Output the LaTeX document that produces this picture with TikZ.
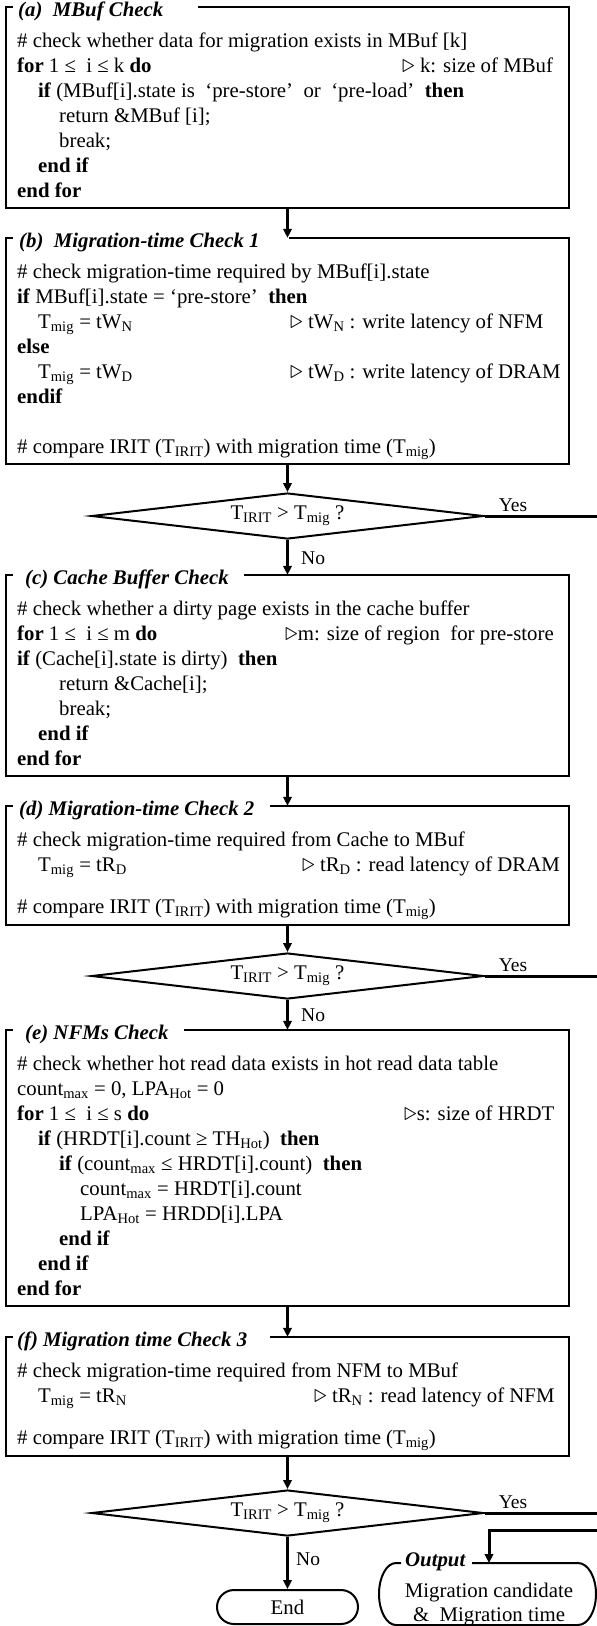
\documentclass[tikz,border=0pt]{standalone}
\usepackage{fontspec}
\usepackage{graphicx}
\setmainfont{Liberation Serif}
\usetikzlibrary{arrows.meta,shapes.geometric,shapes.misc}

\tikzset{
  frame/.style={line width=2pt, line join=miter},
  conn/.style={line width=3pt, -{Triangle[length=9pt,width=8.5pt]}},
  plainconn/.style={line width=3pt},
  txt/.style={inner sep=0pt, anchor=base west, font=\fontsize{20.8}{25}\selectfont},
  ttl/.style={txt, font=\fontsize{20.8}{25}\selectfont\bfseries\itshape},
  lbl/.style={inner sep=0pt, font=\fontsize{19.5}{22}\selectfont},
  boxarea/.style={draw=none, inner sep=0pt, minimum width=563pt},
  decision/.style={diamond, draw, line width=2pt, inner sep=0pt, aspect=8.5,
    minimum width=392pt, minimum height=46pt, font=\fontsize{20.8}{25}\selectfont},
  terminal/.style={rounded rectangle, draw, line width=2pt, inner sep=0pt,
    minimum width=141pt, minimum height=34pt, font=\fontsize{20.8}{25}\selectfont},
}

% open frame of a step box: the top edge leaves room for the heading
\newcommand{\pframe}[2]{%
  \draw[frame] ([xshift=7pt]#1.north west) -- (#1.north west) -- (#1.south west)
    -- (#1.south east) -- (#1.north east) -- ([xshift=#2]#1.north west);}
\newcommand{\sub}[1]{\textsubscript{#1}}
\newcommand{\cmt}{\scalebox{1.25}{$\triangleright$}}

\begin{document}
\begin{tikzpicture}[x=1pt,y=-1pt]
\fill[white] (0,0) rectangle (597,1626);
\useasboundingbox (0,0) rectangle (597,1626);

% ---------- step boxes ----------
\node[boxarea, minimum height=201pt]   (A) at (287.5,107.5) {};
\node[boxarea, minimum height=226pt]   (B) at (287.5,351) {};
\node[boxarea, minimum height=201pt]   (C) at (287.5,675.5) {};
\node[boxarea, minimum height=118.5pt] (D) at (287.5,865.25) {};
\node[boxarea, minimum height=276pt]   (E) at (287.5,1168) {};
\node[boxarea, minimum height=118.5pt] (F) at (287.5,1396.25) {};

\pframe{A}{192pt}
\pframe{B}{283pt}
\pframe{C}{238pt}
\pframe{D}{264pt}
\pframe{E}{178pt}
\pframe{F}{264pt}

% ---------- (a) ----------
\node[ttl] (At) at (18,16) {(a)\ \ MBuf Check};
\node[txt] (a1) at (17,47) {\# check whether data for migration exists in MBuf [k]};
\node[txt] (a2) at (17,72) {\textbf{for} 1 ≤~ i ≤ k \textbf{do}};
\node[txt] (a2c) at (402,72) {\cmt\ k: size of MBuf};
\node[txt] (a3) at (38,97) {\textbf{if} (MBuf[i].state is~ ‘pre-store’~ or~ ‘pre-load’~ \textbf{then}};
\node[txt] (a4) at (59,122) {return \&MBuf [i];};
\node[txt] (a5) at (59,147) {break;};
\node[txt] (a6) at (38,172) {\textbf{end if}};
\node[txt] (a7) at (17,197) {\textbf{end for}};

% ---------- (b) ----------
\node[ttl] (Bt) at (19,247) {(b)\ \ Migration-time Check 1};
\node[txt] (b1) at (17,278) {\# check migration-time required by MBuf[i].state};
\node[txt] (b2) at (17,303) {\textbf{if} MBuf[i].state = ‘pre-store’~ \textbf{then}};
\node[txt] (b3) at (38,328) {T\sub{mig} = tW\sub{N}};
\node[txt] (b3c) at (290,328) {\cmt\ tW\sub{N} : write latency of NFM};
\node[txt] (b4) at (17,353) {\textbf{else}};
\node[txt] (b5) at (38,378) {T\sub{mig} = tW\sub{D}};
\node[txt] (b5c) at (290,378) {\cmt\ tW\sub{D} : write latency of DRAM};
\node[txt] (b6) at (17,403) {\textbf{endif}};
\node[txt] (b7) at (17,453) {\# compare IRIT (T\sub{IRIT}) with migration time (T\sub{mig})};

% ---------- (c) ----------
\node[ttl] (Ct) at (25,584) {(c) Cache Buffer Check};
\node[txt] (c1) at (17,615) {\# check whether a dirty page exists in the cache buffer};
\node[txt] (c2) at (17,640) {\textbf{for} 1 ≤~ i ≤ m \textbf{do}};
\node[txt] (c2c) at (285,640) {\cmt m: size of region~ for pre-store};
\node[txt] (c3) at (17,665) {\textbf{if} (Cache[i].state is dirty)~ \textbf{then}};
\node[txt] (c4) at (59,690) {return \&Cache[i];};
\node[txt] (c5) at (59,715) {break;};
\node[txt] (c6) at (38,740) {\textbf{end if}};
\node[txt] (c7) at (17,765) {\textbf{end for}};

% ---------- (d) ----------
\node[ttl] (Dt) at (19,815) {(d) Migration-time Check 2};
\node[txt] (d1) at (17,846) {\# check migration-time required from Cache to MBuf};
\node[txt] (d2) at (38,871) {T\sub{mig} = tR\sub{D}};
\node[txt] (d2c) at (302,871) {\cmt\ tR\sub{D} : read latency of DRAM};
\node[txt] (d3) at (17,913.5) {\# compare IRIT (T\sub{IRIT}) with migration time (T\sub{mig})};

% ---------- (e) ----------
\node[ttl] (Et) at (25,1039) {(e) NFMs Check};
\node[txt] (e1) at (17,1070) {\# check whether hot read data exists in hot read data table};
\node[txt] (e2) at (17,1095) {count\sub{max} = 0, LPA\sub{Hot} = 0};
\node[txt] (e3) at (17,1120) {\textbf{for} 1 ≤~ i ≤ s \textbf{do}};
\node[txt] (e3c) at (404,1120) {\cmt s: size of HRDT};
\node[txt] (e4) at (38,1145) {\textbf{if} (HRDT[i].count ≥ TH\sub{Hot})~ \textbf{then}};
\node[txt] (e5) at (59,1170) {\textbf{if} (count\sub{max} ≤ HRDT[i].count)~ \textbf{then}};
\node[txt] (e6) at (80,1195) {count\sub{max} = HRDT[i].count};
\node[txt] (e7) at (80,1220) {LPA\sub{Hot} = HRDD[i].LPA};
\node[txt] (e8) at (59,1245) {\textbf{end if}};
\node[txt] (e9) at (38,1270) {\textbf{end if}};
\node[txt] (e10) at (17,1295) {\textbf{end for}};

% ---------- (f) ----------
\node[ttl] (Ft) at (17,1346) {(f) Migration time Check 3};
\node[txt] (f1) at (17,1377) {\# check migration-time required from NFM to MBuf};
\node[txt] (f2) at (38,1402) {T\sub{mig} = tR\sub{N}};
\node[txt] (f2c) at (314,1402) {\cmt\ tR\sub{N} : read latency of NFM};
\node[txt] (f3) at (17,1444.5) {\# compare IRIT (T\sub{IRIT}) with migration time (T\sub{mig})};

% ---------- decisions ----------
\node[decision] (Q1) at (287.5,516)  {T\sub{IRIT} > T\sub{mig} ?};
\node[decision] (Q2) at (287.5,976)  {T\sub{IRIT} > T\sub{mig} ?};
\node[decision] (Q3) at (287.5,1513) {T\sub{IRIT} > T\sub{mig} ?};

% ---------- terminals ----------
\node[terminal] (end) at (287.5,1607) {End};

\draw[frame] (401,1563) -- (396,1563)
  arc[start angle=90,end angle=270,x radius=17pt,y radius=31pt] -- (578,1625)
  arc[start angle=-90,end angle=90,x radius=18pt,y radius=31pt] -- (472,1563);
\node[ttl] (outT) at (405,1566) {Output};
\node[txt, anchor=base] (outA) at (489,1597) {Migration candidate};
\node[txt, anchor=base] (outB) at (489,1621) {\&~ Migration time};
\coordinate (outTop) at (489,1563);

% ---------- flow ----------
\draw[conn] (A.south) -- (B.north);
\draw[conn] (B.south) -- (Q1.north);
\draw[conn] (Q1.south) -- (C.north);
\draw[conn] (C.south) -- (D.north);
\draw[conn] (D.south) -- (Q2.north);
\draw[conn] (Q2.south) -- (E.north);
\draw[conn] (E.south) -- (F.north);
\draw[conn] (F.south) -- (Q3.north);
\draw[conn] (Q3.south) -- (end.north);

\node[lbl, anchor=base west] (no1) at (301,564)  {No};
\node[lbl, anchor=base west] (no2) at (301,1021) {No};
\node[lbl, anchor=base west] (no3) at (296,1565) {No};

% "Yes" branches leave towards the right margin
\coordinate (y1) at (597,516);
\coordinate (y2) at (597,976);
\coordinate (y3) at (597,1513);
\coordinate (r0) at (597,1530);
\draw[plainconn] (Q1.east) -- (y1);
\draw[plainconn] (Q2.east) -- (y2);
\draw[plainconn] (Q3.east) -- (y3);
\node[lbl, anchor=base] (yes1) at (513,511)  {Yes};
\node[lbl, anchor=base] (yes2) at (513,971)  {Yes};
\node[lbl, anchor=base] (yes3) at (513,1508) {Yes};
\draw[conn] (r0) -| (outTop);
\end{tikzpicture}
\end{document}
